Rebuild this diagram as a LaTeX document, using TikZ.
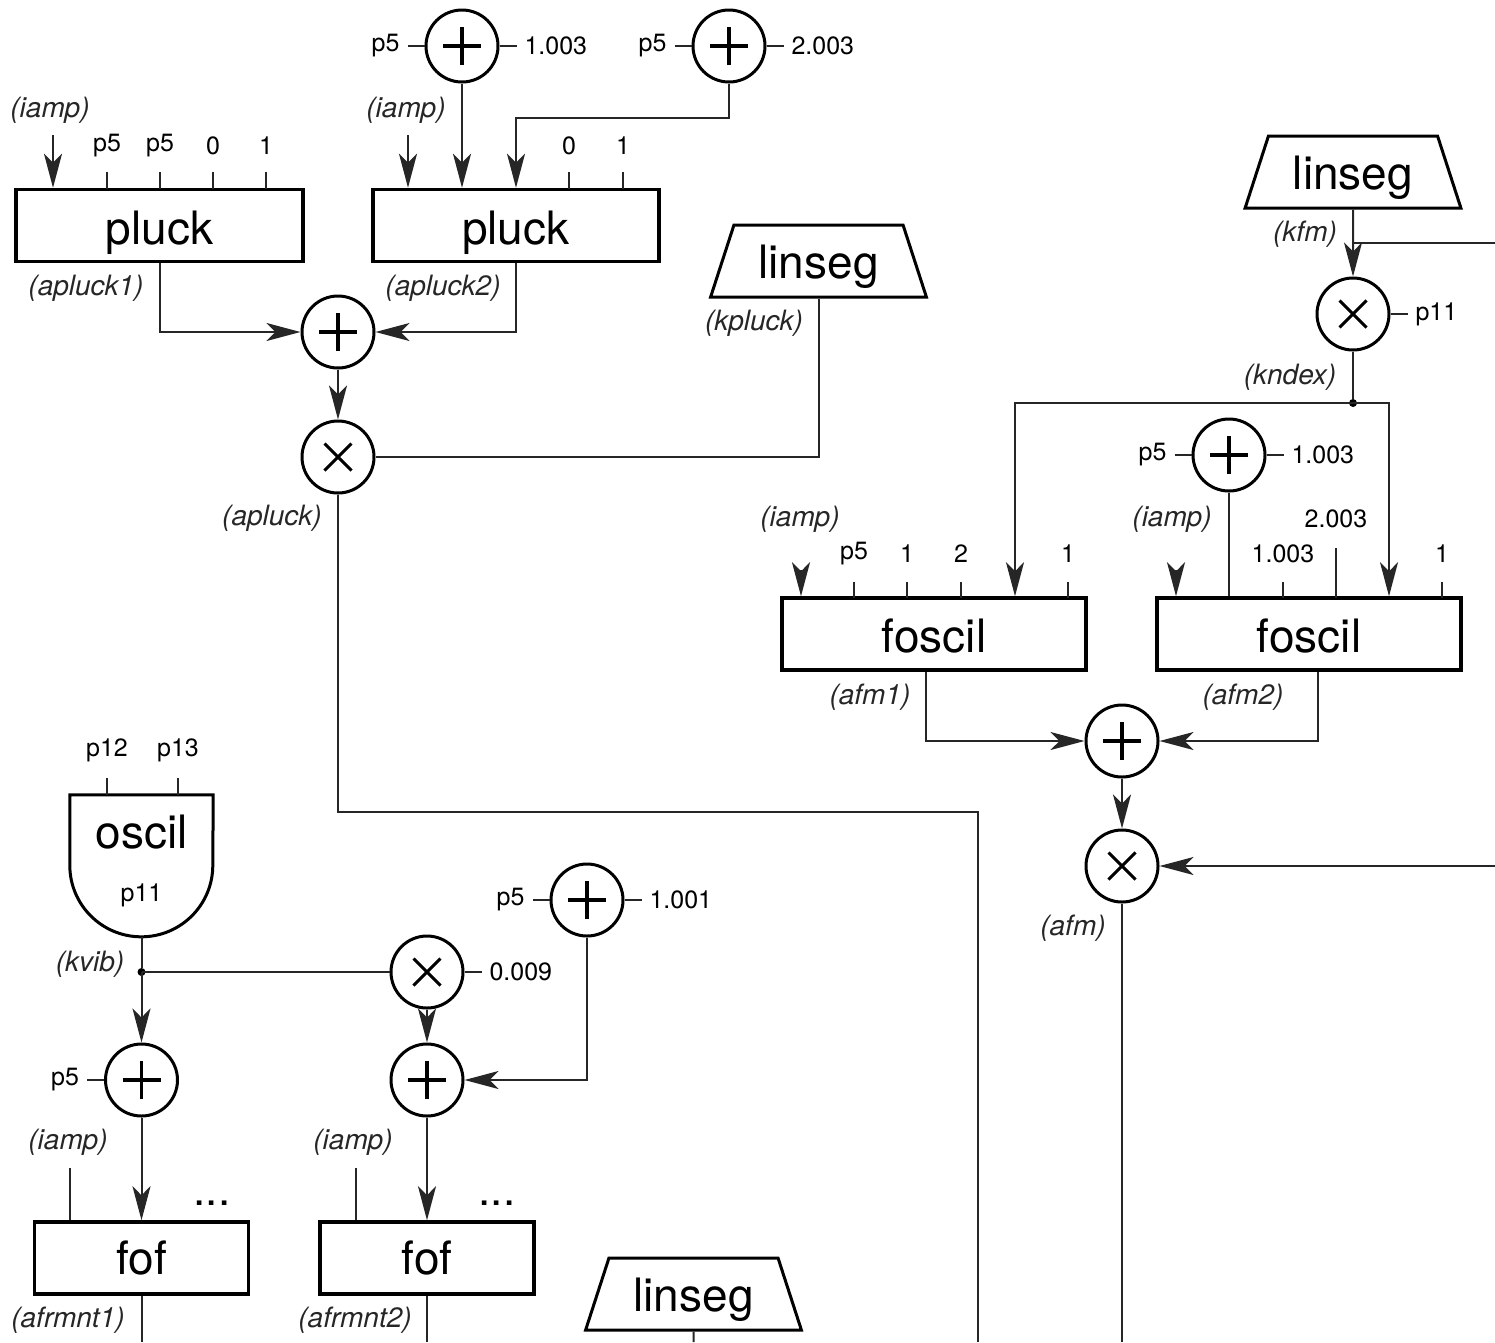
\documentclass[tikz,border=0pt]{standalone}
\usepackage{fontspec}
\setmainfont{TeX Gyre Heros}
\usetikzlibrary{arrows.meta,calc,positioning,shapes.geometric}
\newcommand\opfont{\fontsize{46}{50}\selectfont}
\newcommand\numfont{\fontsize{25}{28}\selectfont}
\newcommand\varfont{\fontsize{28}{31}\selectfont\itshape}
\newcommand\dotfont{\fontsize{44}{48}\selectfont}
\tikzset{wire/.style={black!85,line width=2pt},
         arr/.style={wire,-{Stealth[length=34pt,width=18pt,inset=9pt]}},
         opbox/.style={draw,line width=3.5pt,minimum height=72pt,inner sep=0pt,
                       text height=37pt,text depth=0pt,font=\opfont},
         gen/.style={trapezium,trapezium stretches=true,trapezium angle=64,draw,
                     line width=3pt,minimum width=216pt,minimum height=72pt,inner sep=0pt,
                     text height=34pt,text depth=0pt,font=\opfont},
         op/.style={circle,draw,line width=3pt,minimum size=72pt,inner sep=0pt},
         sumop/.style={op,path picture={\draw[line width=3.5pt,black]
            ([xshift=-19pt]path picture bounding box.center) -- ([xshift=19pt]path picture bounding box.center)
            ([yshift=-19pt]path picture bounding box.center) -- ([yshift=19pt]path picture bounding box.center);}},
         mulop/.style={op,path picture={\draw[line width=3pt,black]
            ([shift={(-13.5pt,-13.5pt)}]path picture bounding box.center) -- ([shift={(13.5pt,13.5pt)}]path picture bounding box.center)
            ([shift={(-13.5pt,13.5pt)}]path picture bounding box.center) -- ([shift={(13.5pt,-13.5pt)}]path picture bounding box.center);}},
         num/.style={font=\numfont,text=black,inner xsep=7pt,inner ysep=2pt},
         var/.style={font=\varfont,text=black!85,inner sep=2pt},
         dot/.style={circle,fill=black,inner sep=0pt,minimum size=8pt}}
\begin{document}
\begin{tikzpicture}[x=1pt,y=1pt]
\useasboundingbox (0,0) rectangle (1495,-1342);
% pluck pair
\node[opbox,minimum width=287pt] (pl1) at (159.5,-225.5) {pluck};
\node[opbox,minimum width=286pt] (pl2) at (516,-225.5) {pluck};
\node[sumop] (s1) at (462,-46) {};
\node[sumop] (s2) at (729,-46) {};
\draw[wire] (s1.west) -- ++(-17,0) node[num,left] (s1a) {p5};
\draw[wire] (s1.east) -- ++(17,0) node[num,right] (s1b) {1.003};
\draw[wire] (s2.west) -- ++(-17,0) node[num,left] (s2a) {p5};
\draw[wire] (s2.east) -- ++(17,0) node[num,right] (s2b) {2.003};
\node[var] (v1) at (50,-110) {(iamp)};
\node[var] (v2) at (406,-110) {(iamp)};
\coordinate (ia1) at (53,-135);
\coordinate (ia2) at (408,-135);
\coordinate (b2) at (516,-118);
\draw[arr] (ia1) -- (ia1 |- pl1.north);
\draw[arr] (ia2) -- (ia2 |- pl2.north);
\draw[arr] (s1) -- (s1 |- pl2.north);
\draw[arr] (s2) |- (b2) -- (b2 |- pl2.north);
\foreach \x/\t [count=\i] in {107/p5,160/p5,213/0,266/1}{
  \draw[wire] (\x,-189) -- ++(0,17);
  \node[num] (pa\i) at (\x,-146) {\t};}
\foreach \x/\t [count=\i] in {569/0,623/1}{
  \draw[wire] (\x,-189) -- ++(0,17);
  \node[num] (pb\i) at (\x,-146) {\t};}
\node[var] (v11) at (86,-288) {(apluck1)};
\node[var] (v12) at (443,-288) {(apluck2)};
% sum and envelope
\node[sumop] (s0) at (338,-332) {};
\node[mulop] (m0) at (338,-457) {};
\draw[arr] (pl1.south) |- (s0);
\draw[arr] (pl2.south) |- (s0);
\draw[arr] (s0) -- (m0);
\node[gen] (lg1) at (818.5,-261) {linseg};
\node[var] (v10) at (754,-323) {(kpluck)};
\draw[wire] (lg1.south) |- (m0);
\node[var] (v13) at (272,-518) {(apluck)};
\coordinate (c1) at (978,-812);
\coordinate (e1) at (978,-1342);
\draw[wire] (m0) |- (c1) -- (e1);
% fm index
\node[gen] (lg2) at (1353,-172) {linseg};
\node[var] (v3) at (1305,-234) {(kfm)};
\node[mulop] (m2) at (1353,-314) {};
\draw[arr] (lg2.south) -- (m2);
\coordinate (k1) at (1353,-243);
\coordinate (k2) at (1495,-243);
\draw[wire] (k1) -- (k2);
\draw[wire] (m2.east) -- ++(17,0) node[num,right] (m2b) {p11};
\node[dot] (kd) at (1353,-403) {};
\node[var] (v4) at (1290,-377) {(kndex)};
\draw[wire] (m2) -- (kd);
% foscil pair
\node[opbox,minimum width=304pt] (fo1) at (934,-634) {foscil};
\node[opbox,minimum width=304pt] (fo2) at (1309,-634) {foscil};
\draw[arr] (kd.center) -| ([xshift=81]fo1.north);
\draw[arr] (kd.center) -| ([xshift=80]fo2.north);
\node[sumop] (s3) at (1229,-455) {};
\draw[wire] (s3.west) -- ++(-17,0) node[num,left] (s3a) {p5};
\draw[wire] (s3.east) -- ++(17,0) node[num,right] (s3b) {1.003};
\draw[wire] (s3) -- (s3 |- fo2.north);
\node[var] (v5) at (800,-519) {(iamp)};
\node[var] (v6) at (1172,-519) {(iamp)};
\coordinate (ia3) at (801,-570);
\coordinate (ia4) at (1176,-570);
\draw[arr] (ia3) -- (ia3 |- fo1.north);
\draw[arr] (ia4) -- (ia4 |- fo2.north);
\foreach \x/\t [count=\i] in {854/p5,907/1,961/2,1068/1}{
  \draw[wire] (\x,-598) -- ++(0,16);
  \node[num] (pc\i) at (\x,-554) {\t};}
\foreach \x/\t [count=\i] in {1283/1.003,1442/1}{
  \draw[wire] (\x,-598) -- ++(0,16);
  \node[num] (pd\i) at (\x,-554) {\t};}
\draw[wire] (1336,-598) -- ++(0,50);
\node[num] (pd3) at (1336,-519) {2.003};
\node[var] (v7) at (870,-697) {(afm1)};
\node[var] (v8) at (1243,-697) {(afm2)};
\node[sumop] (s4) at (1122,-741) {};
\node[mulop] (m4) at (1122,-866) {};
\draw[arr] ([xshift=-8]fo1.south) |- (s4);
\draw[arr] ([xshift=9]fo2.south) |- (s4);
\draw[arr] (s4) -- (m4);
\coordinate (k3) at (1495,-866);
\draw[arr] (k3) -- (m4);
\node[var] (v9) at (1073,-928) {(afm)};
\coordinate (e2) at (1122,-1342);
\draw[wire] (m4) -- (e2);
% vibrato and formants
\node[minimum width=143pt,minimum height=142pt,inner sep=0pt] (osc) at (141.5,-866) {};
\draw[line width=3pt] (osc.north west) -- ++(0,-70.5)
   arc[start angle=180,end angle=360,radius=71.5] -- (osc.north east) -- cycle;
\node[font=\opfont] (osct) at (141.5,-832) {oscil};
\node[num] (oscp) at (141.5,-895) {p11};
\foreach \x/\t [count=\i] in {107/p12,178/p13}{
  \draw[wire] (\x,-795) -- ++(0,17);
  \node[num] (pe\i) at (\x,-750) {\t};}
\node[var] (v14) at (90,-964) {(kvib)};
\node[dot] (kv) at (141.5,-972) {};
\draw[wire] (osc.south) -- (kv);
\node[sumop] (s5) at (141.5,-1080) {};
\draw[arr] (kv.center) -- (s5);
\draw[wire] (s5.west) -- ++(-17,0) node[num,left] (s5a) {p5};
\node[mulop] (m5) at (427,-972) {};
\draw[wire] (kv.center) -- (m5);
\draw[wire] (m5.east) -- ++(17,0) node[num,right] (m5b) {0.009};
\node[sumop] (s6) at (427,-1080) {};
\draw[arr] (m5) -- (s6);
\node[sumop] (s7) at (587,-900) {};
\draw[wire] (s7.west) -- ++(-17,0) node[num,left] (s7a) {p5};
\draw[wire] (s7.east) -- ++(17,0) node[num,right] (s7b) {1.001};
\draw[arr] (s7) |- (s6);
\node[opbox,minimum width=214pt,text height=32pt] (ff1) at (141.5,-1258) {fof};
\node[opbox,minimum width=214pt,text height=32pt] (ff2) at (427,-1258) {fof};
\draw[arr] (s5) -- (ff1);
\draw[arr] (s6) -- (ff2);
\node[var] (v15) at (68,-1142) {(iamp)};
\node[var] (v16) at (353,-1142) {(iamp)};
\coordinate (ia5) at (70,-1168);
\coordinate (ia6) at (356,-1168);
\draw[wire] (ia5) -- (ia5 |- ff1.north);
\draw[wire] (ia6) -- (ia6 |- ff2.north);
\node[num,font=\dotfont] (d1) at (212,-1203) {...};
\node[num,font=\dotfont] (d2) at (497,-1203) {...};
\node[var] (v17) at (68,-1320) {(afrmnt1)};
\node[var] (v18) at (355,-1320) {(afrmnt2)};
\coordinate (e3) at (141.5,-1342);
\coordinate (e4) at (427,-1342);
\draw[wire] (ff1) -- (e3);
\draw[wire] (ff2) -- (e4);
\node[gen] (lg3) at (693.5,-1294) {linseg};
\coordinate (e5) at (693.5,-1342);
\draw[wire] (lg3.south) -- (e5);
\end{tikzpicture}
\end{document}
